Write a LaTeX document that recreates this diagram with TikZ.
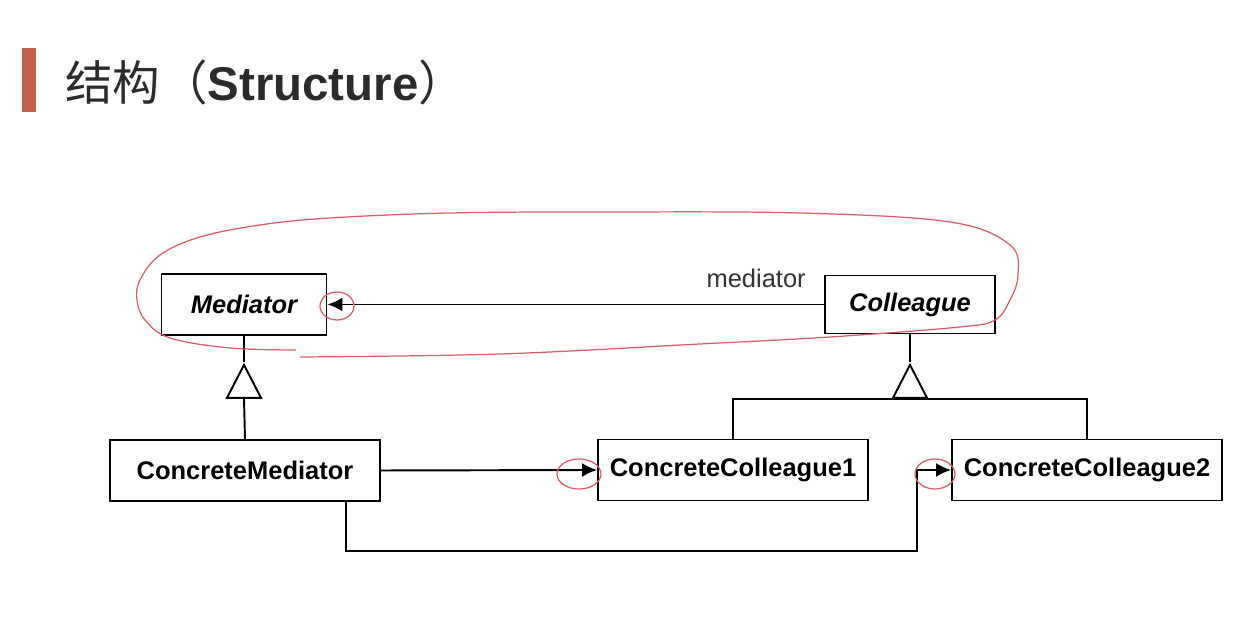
\documentclass[tikz,border=0pt]{standalone}
\usepackage{fontspec}
\setmainfont{Liberation Sans}
\newfontfamily\cjk{Noto Sans CJK SC}
\usepackage{tikz}
\usetikzlibrary{arrows.meta, positioning, shapes.geometric, calc}
\definecolor{titlebar}{HTML}{C0614B}
\definecolor{titletext}{HTML}{2B2B2B}
\definecolor{penred}{HTML}{DE5A66}

\begin{document}
\begin{tikzpicture}[
    every node/.style={font=\fontsize{14.5}{17}\selectfont},
    classbox/.style={
        rectangle,
        draw=black,
        line width=1.1pt,
        minimum width=5.4cm,
        minimum height=1.22cm,
        font=\fontsize{14.5}{17}\selectfont\bfseries
    },
    abstractbox/.style={classbox, minimum width=3.3cm, font=\fontsize{14.5}{17}\selectfont\bfseries\itshape},
    inhtri/.style={isosceles triangle, shape border rotate=90, isosceles triangle stretches,
        draw=black, line width=1.1pt, fill=white, minimum height=0.66cm, minimum width=0.68cm, inner sep=0pt},
    line/.style={draw=black, line width=1.1pt},
    assoc/.style={line, -{Latex[length=3mm, width=2.8mm]}},
    rolelbl/.style={font=\fontsize{14.5}{17}\selectfont, text=black!80},
    penmark/.style={draw=penred, line width=0.7pt}
]
\useasboundingbox (0,0) rectangle (24.96,12.74);

% TITLE
\fill[titlebar] (0.44,10.5) rectangle (0.72,11.78);
\node[anchor=west, inner sep=0pt, text=titletext, font=\fontsize{27}{30}\selectfont] (title) at (1.3,11.1)
    {{\cjk 结构（}\textbf{Structure}{\cjk ）}};

% NODES
\node[abstractbox] (med)  at (4.88, 6.65) {Mediator};
\node[abstractbox, minimum width=3.4cm, minimum height=1.16cm] (coll) at (18.2, 6.65) {Colleague};

\node[classbox] (cmed) at (4.9, 3.33)  {ConcreteMediator};
\node[classbox] (cc1)  at (14.66, 3.34) {ConcreteColleague1};
\node[classbox] (cc2)  at (21.74, 3.34) {ConcreteColleague2};

\node[inhtri] (tri1) at (4.88, 4.99) {};
\node[inhtri] (tri2) at (18.2, 4.99) {};

\node[rolelbl, anchor=south east, inner sep=0pt] (medlbl) at ([xshift=-0.36cm, yshift=0.32cm]coll.west) {mediator};

% INHERITANCE
\draw[line] (med.south) -- (tri1.north);
\draw[line] (cmed.north) -- (tri1.south);
\draw[line] (coll.south) -- (tri2.north);
\coordinate (bar) at (tri2.south);
\draw[line] (cc1.north) |- (bar) -| (cc2.north);

% ASSOCIATIONS
\draw[assoc] (coll.west) -- (med.east);
\draw[assoc] (cmed.east) -- (cc1.west);
\draw[assoc] ([xshift=2.02cm]cmed.south) -- ++(0,-0.98) -| ([xshift=-0.68cm]cc2.west) -- (cc2.west);

% PEN MARKS
\draw[penmark] plot[smooth, tension=0.6] coordinates {
    (5.92,5.74) (4.6,5.78) (3.4,5.98) (2.9,6.34) (2.74,6.74) (2.8,7.14) (3.2,7.64)
    (4.0,8.0) (5.2,8.24) (6.6,8.38) (9.0,8.48) (12.0,8.5) (16.0,8.48) (19.0,8.3)
    (20.2,7.84) (20.36,7.24) (20.2,6.74) (19.9,6.34) (19.2,6.2) (16.6,6.0) (14.0,5.86)
    (10.0,5.66) (6.0,5.6)};
\draw[penmark] (6.74,6.62) ellipse[x radius=0.34cm, y radius=0.28cm];
\draw[penmark] (11.58,3.26) ellipse[x radius=0.44cm, y radius=0.3cm];
\draw[penmark] (18.7,3.26) ellipse[x radius=0.4cm, y radius=0.3cm];

\end{tikzpicture}
\end{document}
